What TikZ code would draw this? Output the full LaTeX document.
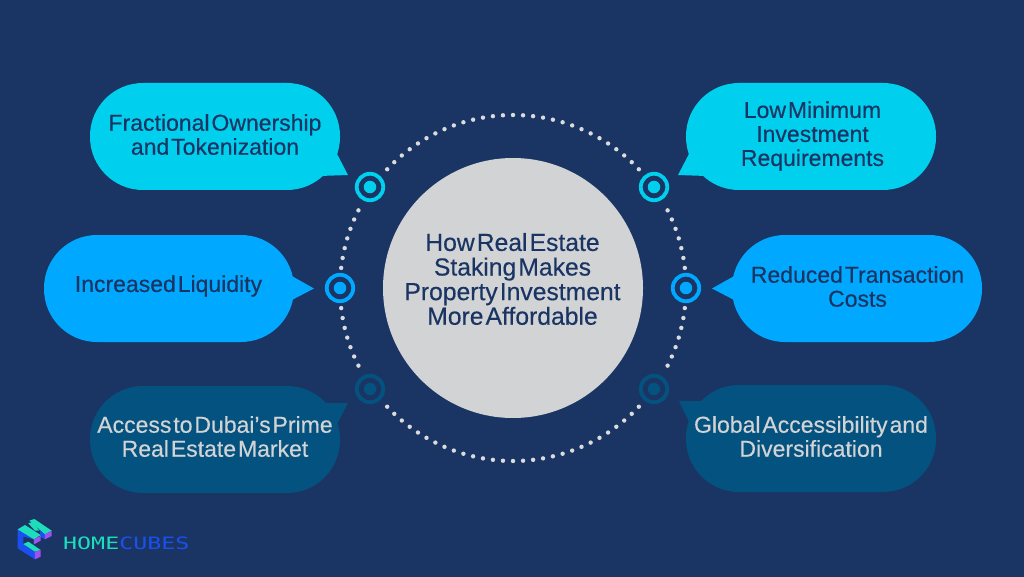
\documentclass[tikz,border=0pt]{standalone}
\usepackage{fontspec}
\setmainfont[WordSpace=0.3,FakeBold=0.35]{Liberation Sans}
\newfontfamily\logofont{DejaVu Sans Mono}
\definecolor{bgc}{HTML}{1A3563}
\definecolor{cyanb}{HTML}{00CFEE}
\definecolor{blueb}{HTML}{00A8FF}
\definecolor{darkb}{HTML}{04527F}
\definecolor{greyc}{HTML}{D2D3D5}
\definecolor{dotc}{HTML}{DADBDD}
\definecolor{lgreen}{HTML}{1DDDBB}
\definecolor{lblue}{HTML}{1A50F0}
\definecolor{lpurple}{HTML}{A050F0}
\tikzset{
  bubble/.style={fill=#1,rounded corners=53pt},
  btext/.style={align=center,font=\fontsize{23}{24}\selectfont,text=#1,inner sep=0pt},
  hubtext/.style={align=center,font=\fontsize{24.7}{24.6}\selectfont,text=#1,inner sep=0pt},
  marker/.style={circle,draw=#1,line width=3.8pt,fill=none,minimum size=26.5pt,inner sep=0pt},
  core/.style={circle,fill=#1,minimum size=12.5pt,inner sep=0pt},
}
\begin{document}
\begin{tikzpicture}[x=1pt,y=-1pt]
\useasboundingbox (0,0) rectangle (1024,577);
\fill[bgc] (0,0) rectangle (1024,577);
% dotted ring
\foreach \i in {0,...,107}{
  \pgfmathsetmacro{\ang}{\i*3.33333}
  \pgfmathsetmacro{\dx}{17.3*cos(\ang)}
  \pgfmathsetmacro{\dy}{17.3*sin(\ang)}
  \pgfmathtruncatemacro{\skipit}{
    (veclen(\dx+17.3,\dy)<2)+(veclen(\dx-17.3,\dy)<2)+
    (veclen(\dx+14.3,\dy+10.1)<2)+(veclen(\dx-14.1,\dy+10.1)<2)+
    (veclen(\dx+14.3,\dy-10.1)<2)+(veclen(\dx-14.1,\dy-10.1)<2)}
  \ifnum\skipit=0
    \fill[dotc] (513+10*\dx,288+10*\dy) circle (2.2pt);
  \fi
}
% centre
\node[circle,fill=greyc,minimum size=260pt,inner sep=0pt] (hub) at (513,288) {};
\node[hubtext=bgc] (hubt) at (512.5,279) {How Real Estate\\Staking Makes\\Property Investment\\More Affordable};
% bubbles
\fill[bubble=cyanb] (90,83) rectangle (340,190);
\fill[cyanb] (335,150) -- (348,175) -- (320,176) -- cycle;
\node[btext=bgc] (b1) at (215,134.5) {Fractional Ownership\\and Tokenization};
\fill[bubble=blueb] (44,235) rectangle (294,342);
\fill[blueb] (290,275) -- (314,288.5) -- (290,301) -- cycle;
\node[btext=bgc] (b2) at (168.5,286) {Increased Liquidity};
\fill[bubble=darkb] (90,386) rectangle (340,493);
\fill[darkb] (320,403) -- (348,403) -- (335,428) -- cycle;
\node[btext=greyc] (b3) at (215,436.5) {Access to Dubai's Prime\\Real Estate Market};
\fill[bubble=cyanb] (686,83) rectangle (936,190);
\fill[cyanb] (691,150) -- (678,175) -- (706,176) -- cycle;
\node[btext=bgc] (b4) at (812.5,136) {Low Minimum\\Investment\\Requirements};
\fill[bubble=blueb] (732,235) rectangle (982,342);
\fill[blueb] (736,275) -- (712,288.5) -- (736,301) -- cycle;
\node[btext=bgc] (b5) at (857.5,286.5) {Reduced Transaction\\Costs};
\fill[bubble=darkb] (686,385) rectangle (936,492);
\fill[darkb] (706,401) -- (679,401) -- (691,426) -- cycle;
\node[btext=greyc] (b6) at (811,436.5) {Global Accessibility and\\Diversification};
% markers
\node[marker=cyanb] (m1) at (370,187) {}; \node[core=cyanb] (c1) at (m1) {};
\node[marker=blueb] (m2) at (340,288) {}; \node[core=blueb] (c2) at (m2) {};
\node[marker=darkb] (m3) at (370,389) {}; \node[core=darkb] (c3) at (m3) {};
\node[marker=cyanb] (m4) at (654,187) {}; \node[core=cyanb] (c4) at (m4) {};
\node[marker=blueb] (m5) at (686,288) {}; \node[core=blueb] (c5) at (m5) {};
\node[marker=darkb] (m6) at (654,389) {}; \node[core=darkb] (c6) at (m6) {};
% logo
\begin{scope}[shift={(0,500)},x=0.3333pt,y=-0.3333pt]
\fill[lblue] (53,88) -- (53,145) -- (105,178) -- (105,155) -- (70,132) -- (70,110) -- (102,118) -- (122,105) -- cycle;
\fill[lblue] (120,92) -- (135,103) -- (135,118) -- (120,110) -- cycle;
\fill[lgreen] (88,62) -- (103,57) -- (155,92) -- (135,103) -- cycle;
\fill[lgreen] (53,88) -- (75,75) -- (122,105) -- (102,118) -- cycle;
\fill[lgreen] (85,70) -- (98,66) -- (118,92) -- (105,92) -- cycle;
\fill[lgreen] (70,132) -- (85,125) -- (122,150) -- (105,155) -- cycle;
\fill[lpurple] (105,155) -- (122,150) -- (122,170) -- (105,178) -- cycle;
\fill[lpurple] (102,118) -- (122,108) -- (122,122) -- (102,133) -- cycle;
\fill[lpurple] (135,103) -- (155,92) -- (155,108) -- (135,118) -- cycle;
\end{scope}
\node[anchor=west,inner sep=0pt,font=\logofont\fontsize{17}{17}\selectfont] (logo) at (63,543) {\scalebox{1.37}[1]{\textcolor{lgreen}{HOME}\textcolor{lblue}{CUBES}}};
\end{tikzpicture}
\end{document}
